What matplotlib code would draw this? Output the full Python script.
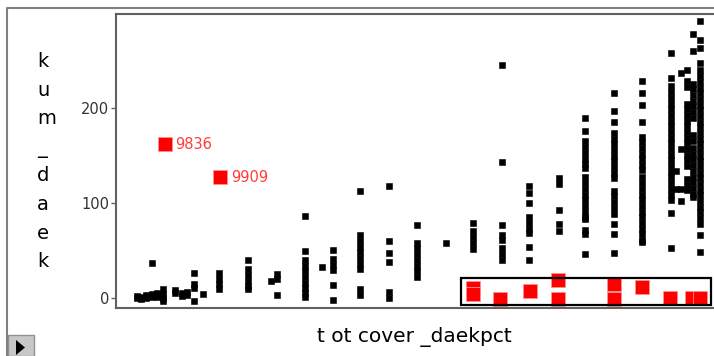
import matplotlib
matplotlib.use("Agg")
import matplotlib.pyplot as plt
from matplotlib.patches import Rectangle, Polygon
from matplotlib.lines import Line2D

# ---------------- data ----------------
col_x = [3.5, 4.2, 5.0, 6.0, 6.8, 7.8, 9.8, 10.9, 11.8, 12.9, 14.5, 17.1, 21.9,
         25.7, 26.7, 31.3, 34.1, 36.0, 40.4, 45.2, 49.9, 54.7, 59.1, 63.9,
         68.4, 73.4, 77.7, 82.5, 87.1, 91.9, 92.7, 93.6, 94.6, 95.5, 96.7]
col_y = [
    [2, 0],
    [1, -1],
    [3, 0],
    [37, 4, 1],
    [5, 1],
    [9, 4, 0, -3],
    [8, 5],
    [5, 2],
    [6, 3],
    [26, 14, 10, -3],
    [4],
    [26, 20, 14, 9],
    [40, 30, 24, 18, 12, 9],
    [18],
    [25, 20, 3],
    [86, 49, 40, 34, 28, 22, 16, 10, 5, 1],
    [32],
    [50, 41, 35, 29, 13, -2],
    [113, 66, 60, 54, 48, 42, 36, 30, 9, 3],
    [118, 60, 47, 38, 6, 0],
    [77, 58, 52, 46, 40, 34, 28, 22],
    [58],
    [79, 70, 64, 58, 51],
    [246, 143, 77, 66, 61, 52, 46, 40],
    [118, 111, 100, 85, 79, 73, 68, 54, 40],
    [126, 120, 93, 78, 70],
    [190, 176, 165, 159, 153, 147, 141, 137, 127, 121, 115, 109, 103, 97, 91,
     85, 83, 71, 67, 46],
    [216, 197, 186, 174, 168, 162, 156, 150, 144, 138, 132, 126, 113, 107,
     101, 95, 88, 78, 67, 47],
    [229, 216, 204, 186, 170, 164, 158, 152, 146, 140, 135, 127, 121, 115,
     109, 103, 97, 91, 85, 79, 73, 67, 61, 59],
    [259, 232, 224, 217, 211, 205, 199, 193, 187, 181, 175, 169, 163, 157,
     151, 145, 139, 133, 127, 121, 115, 109, 103, 89, 52],
    [134, 115],
    [237, 157, 115, 102],
    [240, 229, 223, 205, 199, 193, 187, 181, 175, 169, 163, 157, 151, 145,
     139, 125, 119, 114],
    [279, 261, 226, 220, 214, 208, 202, 196, 190, 172, 165, 158, 152, 146,
     140, 134, 128, 122, 116, 110, 106],
    [292, 272, 264, 248, 240, 234, 228, 222, 216, 210, 204, 198, 192, 186,
     180, 174, 168, 162, 156, 150, 144, 138, 132, 126, 120, 114, 108, 102,
     96, 90, 84, 78, 66, 48],
]

# highlighted (selected) rows
red_x = [59.1, 59.1, 63.6, 68.6, 73.2, 73.2, 82.4, 82.4, 87.1, 91.7, 95.4, 96.7]
red_y = [10, 4, -1, 7, 19, -1, 14, -1, 11, 0, 0, 0]

# labelled outliers
lab_x = [8.1, 17.3]
lab_y = [162, 127]
lab_text = ["9836", "9909"]

# selection box (data coords)
box_x = [57.1, 98.5]
box_y = [-7.7, 21.3]

yticks = [0, 100, 200]
xlabel = "t ot cover _daekpct"
ylabel = "kum_daek"

# ---------------- figure ----------------
W, H = 714, 356
fig = plt.figure(figsize=(W / 100, H / 100), dpi=100)
fig.patch.set_facecolor("white")

left_px, right_px, top_px, bot_px = 115.7, 720, 13.7, 308.3
ax = fig.add_axes([left_px / W, 1 - bot_px / H,
                   (right_px - left_px) / W, (bot_px - top_px) / H])
ax.set_xlim(0, 100)
ax.set_ylim(-11.2, 300)

# black points
xs, ys = [], []
for cx, cy in zip(col_x, col_y):
    for v in cy:
        xs.append(cx)
        ys.append(v)
ax.plot(xs, ys, "s", ms=4.8, color="black", mec="black", mew=0.4, zorder=3)

# red points
ax.plot(red_x, red_y, "s", ms=9.4, color="#ff0000", mec="#ff9090", mew=0.6,
        zorder=4)
ax.plot(lab_x, lab_y, "s", ms=9.4, color="#ff0000", mec="#ff9090", mew=0.6,
        zorder=4)
for lx, ly, t in zip(lab_x, lab_y, lab_text):
    ax.annotate(t, (lx, ly), xytext=(7.6, 0), textcoords="offset points",
                va="center", ha="left", color="#ff3c3c", fontsize=10.5,
                family="DejaVu Sans")

# selection box
ax.add_patch(Rectangle((box_x[0], box_y[0]), box_x[1] - box_x[0],
                       box_y[1] - box_y[0], fill=False, edgecolor="black",
                       lw=1.6, zorder=5))

# axes styling
for s in ["left", "top", "bottom", "right"]:
    ax.spines[s].set_color("#606060")
    ax.spines[s].set_linewidth(1.5)
ax.set_yticks(yticks)
ax.set_yticklabels([str(v) for v in yticks])
ax.set_xticks([])
ax.tick_params(axis="y", direction="out", length=3.8, width=1.0,
               color="#606060", labelsize=10.5, labelcolor="#333333", pad=1)

# axis labels
fig.text(414.5 / W, 1 - 342 / H, xlabel, ha="center", va="baseline",
         fontsize=14.5, family="DejaVu Sans", color="black")
y0 = 67
for i, ch in enumerate(ylabel):
    fig.text(37 / W, 1 - (y0 + i * 28.6) / H, ch, ha="left", va="baseline",
             fontsize=14, family="DejaVu Sans", color="black")

# outer panel border
fig.add_artist(Line2D([6.5 / W, 6.5 / W, 1.0], [0, 1 - 8 / H, 1 - 8 / H],
                      transform=fig.transFigure, color="#808080", lw=1.5))

# disclosure button bottom-left
fig.add_artist(Rectangle((7.5 / W, 0), 26 / W, 21 / H,
                         transform=fig.transFigure, facecolor="#c8c8c8",
                         edgecolor="#909090", lw=1))
fig.add_artist(Polygon([[16 / W, 1 - 340 / H], [16 / W, 1 - 355 / H],
                        [25 / W, 1 - 347.5 / H]], closed=True,
                       transform=fig.transFigure, facecolor="black",
                       edgecolor="none"))

fig.savefig("out.png", dpi=100, facecolor="white")
